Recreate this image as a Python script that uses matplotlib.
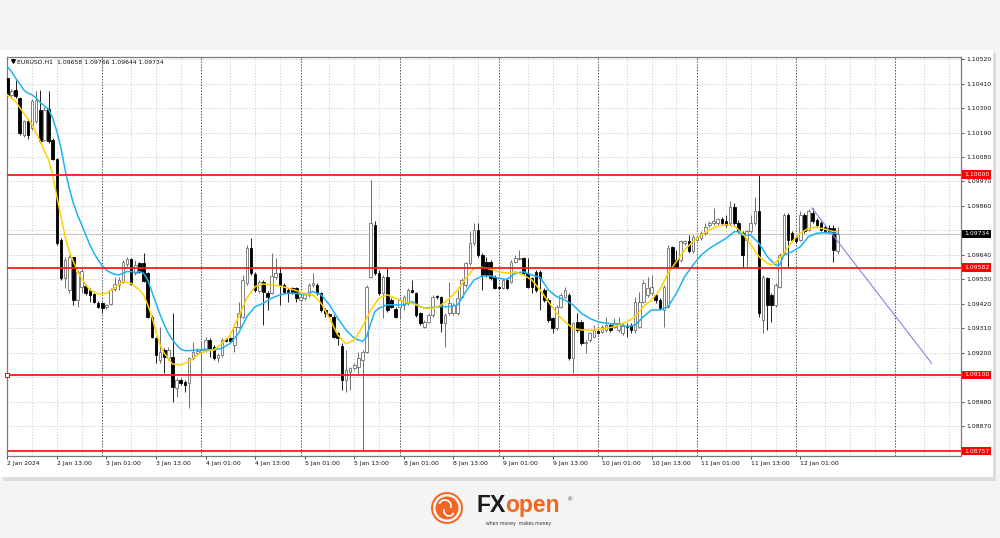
import numpy as np
import matplotlib.pyplot as plt
from matplotlib.patches import Rectangle, Circle, Arc

W, H = 1000, 538

# ------------------------------------------------------------------ data (EURUSD H1)
open_ = [
    1.10435, 1.10360, 1.10382, 1.10345, 1.10180, 1.10242, 1.10210, 1.10240, 1.10292, 1.10157,
    1.10295, 1.10157, 1.10070, 1.09707, 1.09535, 1.09482, 1.09629, 1.09437, 1.09497, 1.09502,
    1.09482, 1.09464, 1.09425, 1.09422, 1.09404, 1.09419, 1.09485, 1.09505, 1.09520, 1.09599,
    1.09620, 1.09557, 1.09602, 1.09602, 1.09557, 1.09362, 1.09265, 1.09167, 1.09212, 1.09175,
    1.09182, 1.09040, 1.09077, 1.09070, 1.09062, 1.09175, 1.09200, 1.09203, 1.09212, 1.09257,
    1.09227, 1.09175, 1.09190, 1.09260, 1.09265, 1.09235, 1.09317, 1.09362, 1.09512, 1.09672,
    1.09554, 1.09479, 1.09520, 1.09470, 1.09470, 1.09539, 1.09557, 1.09505, 1.09482, 1.09490,
    1.09490, 1.09437, 1.09445, 1.09460, 1.09505, 1.09505, 1.09467, 1.09392, 1.09372, 1.09362,
    1.09287, 1.09230, 1.09077, 1.09115, 1.09130, 1.09137, 1.09167, 1.09205, 1.09542, 1.09775,
    1.09557, 1.09467, 1.09539, 1.09437, 1.09395, 1.09407, 1.09415, 1.09422, 1.09482, 1.09467,
    1.09377, 1.09317, 1.09340, 1.09370, 1.09455, 1.09449, 1.09335, 1.09377, 1.09377, 1.09377,
    1.09452, 1.09505, 1.09602, 1.09692, 1.09752, 1.09640, 1.09610, 1.09610, 1.09542, 1.09497,
    1.09490, 1.09527, 1.09520, 1.09610, 1.09620, 1.09625, 1.09557, 1.09535, 1.09565, 1.09565,
    1.09482, 1.09437, 1.09355, 1.09310, 1.09407, 1.09452, 1.09460, 1.09175, 1.09340, 1.09340,
    1.09242, 1.09257, 1.09272, 1.09299, 1.09295, 1.09302, 1.09325, 1.09317, 1.09302, 1.09287,
    1.09320, 1.09325, 1.09302, 1.09317, 1.09430, 1.09460, 1.09467, 1.09460, 1.09437, 1.09392,
    1.09407, 1.09674, 1.09617, 1.09617, 1.09692, 1.09704, 1.09655, 1.09707, 1.09715, 1.09737,
    1.09775, 1.09782, 1.09782, 1.09800, 1.09790, 1.09782, 1.09857, 1.09782, 1.09737, 1.09707,
    1.09745, 1.09782, 1.09835, 1.09347, 1.09535, 1.09460, 1.09415, 1.09497, 1.09647, 1.09820,
    1.09737, 1.09722, 1.09707, 1.09820, 1.09752, 1.09827, 1.09797, 1.09782, 1.09767, 1.09760,
    1.09760, 1.09658]
high = [
    1.10442, 1.10385, 1.10427, 1.10352, 1.10247, 1.10250, 1.10340, 1.10379, 1.10382, 1.10307,
    1.10375, 1.10165, 1.10075, 1.09715, 1.09632, 1.09640, 1.09632, 1.09572, 1.09580, 1.09509,
    1.09490, 1.09470, 1.09434, 1.09430, 1.09419, 1.09490, 1.09542, 1.09542, 1.09617, 1.09632,
    1.09625, 1.09617, 1.09610, 1.09650, 1.09565, 1.09370, 1.09272, 1.09317, 1.09220, 1.09227,
    1.09377, 1.09085, 1.09085, 1.09077, 1.09182, 1.09250, 1.09220, 1.09250, 1.09272, 1.09265,
    1.09235, 1.09197, 1.09265, 1.09266, 1.09272, 1.09325, 1.09430, 1.09550, 1.09685, 1.09715,
    1.09565, 1.09527, 1.09527, 1.09479, 1.09647, 1.09625, 1.09580, 1.09512, 1.09490, 1.09497,
    1.09497, 1.09460, 1.09475, 1.09512, 1.09557, 1.09512, 1.09475, 1.09400, 1.09377, 1.09370,
    1.09295, 1.09242, 1.09212, 1.09137, 1.09152, 1.09205, 1.09212, 1.09505, 1.09977, 1.09790,
    1.09572, 1.09550, 1.09587, 1.09445, 1.09404, 1.09452, 1.09460, 1.09490, 1.09527, 1.09475,
    1.09385, 1.09347, 1.09377, 1.09460, 1.09461, 1.09455, 1.09377, 1.09520, 1.09422, 1.09482,
    1.09535, 1.09610, 1.09745, 1.09782, 1.09782, 1.09647, 1.09632, 1.09617, 1.09550, 1.09502,
    1.09535, 1.09535, 1.09617, 1.09640, 1.09662, 1.09632, 1.09625, 1.09542, 1.09572, 1.09572,
    1.09490, 1.09445, 1.09362, 1.09415, 1.09467, 1.09497, 1.09467, 1.09340, 1.09377, 1.09347,
    1.09257, 1.09295, 1.09325, 1.09305, 1.09325, 1.09362, 1.09332, 1.09355, 1.09362, 1.09332,
    1.09332, 1.09332, 1.09452, 1.09475, 1.09527, 1.09542, 1.09550, 1.09467, 1.09445, 1.09505,
    1.09685, 1.09680, 1.09662, 1.09707, 1.09707, 1.09730, 1.09730, 1.09728, 1.09745, 1.09782,
    1.09791, 1.09850, 1.09806, 1.09812, 1.09820, 1.09880, 1.09872, 1.09797, 1.09745, 1.09752,
    1.09820, 1.09902, 1.09999, 1.09550, 1.09542, 1.09467, 1.09512, 1.09647, 1.09827, 1.09827,
    1.09745, 1.09730, 1.09835, 1.09827, 1.09845, 1.09850, 1.09805, 1.09790, 1.09775, 1.09775,
    1.09775, 1.09766]
low = [
    1.10352, 1.10349, 1.10345, 1.10180, 1.10172, 1.10162, 1.10202, 1.10232, 1.10145, 1.10150,
    1.10142, 1.10067, 1.09685, 1.09527, 1.09490, 1.09467, 1.09415, 1.09407, 1.09467, 1.09460,
    1.09430, 1.09422, 1.09400, 1.09377, 1.09398, 1.09415, 1.09479, 1.09482, 1.09512, 1.09587,
    1.09505, 1.09550, 1.09557, 1.09520, 1.09355, 1.09265, 1.09152, 1.09152, 1.09107, 1.09167,
    1.08980, 1.09002, 1.09055, 1.09025, 1.08950, 1.09167, 1.09190, 1.08957, 1.09205, 1.09182,
    1.09167, 1.09160, 1.09182, 1.09250, 1.09248, 1.09205, 1.09310, 1.09355, 1.09505, 1.09550,
    1.09475, 1.09467, 1.09325, 1.09392, 1.09464, 1.09530, 1.09415, 1.09467, 1.09430, 1.09464,
    1.09430, 1.09430, 1.09437, 1.09452, 1.09497, 1.09460, 1.09385, 1.09362, 1.09362, 1.09265,
    1.09235, 1.09032, 1.09025, 1.09032, 1.09122, 1.09100, 1.08762, 1.09197, 1.09535, 1.09550,
    1.09460, 1.09355, 1.09385, 1.09400, 1.09355, 1.09355, 1.09392, 1.09415, 1.09467, 1.09362,
    1.09325, 1.09310, 1.09332, 1.09362, 1.09443, 1.09295, 1.09227, 1.09370, 1.09370, 1.09370,
    1.09445, 1.09497, 1.09595, 1.09685, 1.09632, 1.09482, 1.09542, 1.09527, 1.09485, 1.09485,
    1.09485, 1.09485, 1.09512, 1.09605, 1.09617, 1.09550, 1.09490, 1.09467, 1.09475, 1.09392,
    1.09430, 1.09340, 1.09287, 1.09302, 1.09400, 1.09445, 1.09167, 1.09107, 1.09295, 1.09235,
    1.09197, 1.09250, 1.09265, 1.09284, 1.09287, 1.09295, 1.09295, 1.09310, 1.09295, 1.09280,
    1.09272, 1.09287, 1.09287, 1.09310, 1.09422, 1.09452, 1.09460, 1.09422, 1.09392, 1.09317,
    1.09400, 1.09580, 1.09580, 1.09610, 1.09685, 1.09647, 1.09647, 1.09701, 1.09707, 1.09730,
    1.09767, 1.09775, 1.09776, 1.09775, 1.09767, 1.09775, 1.09775, 1.09737, 1.09587, 1.09587,
    1.09737, 1.09775, 1.09362, 1.09287, 1.09302, 1.09340, 1.09407, 1.09490, 1.09640, 1.09580,
    1.09700, 1.09692, 1.09700, 1.09737, 1.09745, 1.09782, 1.09767, 1.09745, 1.09737, 1.09737,
    1.09610, 1.09644]
close = [
    1.10360, 1.10379, 1.10355, 1.10187, 1.10242, 1.10180, 1.10330, 1.10337, 1.10150, 1.10292,
    1.10150, 1.10072, 1.09692, 1.09535, 1.09617, 1.09632, 1.09437, 1.09565, 1.09569, 1.09467,
    1.09460, 1.09430, 1.09407, 1.09400, 1.09413, 1.09482, 1.09509, 1.09527, 1.09610, 1.09620,
    1.09509, 1.09595, 1.09565, 1.09524, 1.09362, 1.09272, 1.09190, 1.09205, 1.09182, 1.09212,
    1.09047, 1.09077, 1.09062, 1.09055, 1.09175, 1.09205, 1.09209, 1.09212, 1.09257, 1.09212,
    1.09175, 1.09190, 1.09257, 1.09254, 1.09254, 1.09317, 1.09377, 1.09527, 1.09670, 1.09557,
    1.09482, 1.09520, 1.09475, 1.09452, 1.09545, 1.09560, 1.09505, 1.09475, 1.09470, 1.09470,
    1.09445, 1.09452, 1.09467, 1.09505, 1.09512, 1.09467, 1.09392, 1.09377, 1.09366, 1.09272,
    1.09265, 1.09077, 1.09122, 1.09130, 1.09145, 1.09175, 1.09205, 1.09497, 1.09782, 1.09557,
    1.09467, 1.09542, 1.09392, 1.09407, 1.09362, 1.09437, 1.09452, 1.09482, 1.09475, 1.09370,
    1.09332, 1.09340, 1.09370, 1.09452, 1.09449, 1.09332, 1.09370, 1.09422, 1.09415, 1.09445,
    1.09527, 1.09602, 1.09692, 1.09752, 1.09640, 1.09550, 1.09550, 1.09535, 1.09490, 1.09490,
    1.09527, 1.09490, 1.09610, 1.09625, 1.09625, 1.09557, 1.09497, 1.09497, 1.09482, 1.09535,
    1.09437, 1.09347, 1.09310, 1.09407, 1.09460, 1.09482, 1.09175, 1.09332, 1.09302, 1.09242,
    1.09250, 1.09287, 1.09302, 1.09290, 1.09317, 1.09325, 1.09302, 1.09332, 1.09332, 1.09320,
    1.09314, 1.09302, 1.09430, 1.09430, 1.09512, 1.09490, 1.09497, 1.09437, 1.09400, 1.09497,
    1.09670, 1.09587, 1.09587, 1.09700, 1.09702, 1.09655, 1.09722, 1.09722, 1.09737, 1.09767,
    1.09785, 1.09792, 1.09800, 1.09782, 1.09775, 1.09854, 1.09782, 1.09745, 1.09640, 1.09745,
    1.09782, 1.09835, 1.09377, 1.09542, 1.09415, 1.09415, 1.09505, 1.09640, 1.09820, 1.09707,
    1.09707, 1.09700, 1.09820, 1.09745, 1.09835, 1.09790, 1.09775, 1.09752, 1.09745, 1.09745,
    1.09662, 1.09734]

# yellow (fast) moving average, sampled at bar indices
fast_idx = [0, 2, 4, 6, 8, 10, 11, 12, 13, 14, 15, 16, 17, 18, 19, 20, 22, 24, 26, 28,
            30, 32, 33, 34, 35, 36, 37, 38, 40, 42, 44, 46, 48, 50, 52, 54, 56, 58, 60, 62,
            64, 66, 68, 70, 72, 74, 76, 78, 80, 82, 84, 86, 88, 90, 92, 94, 96, 98, 100, 101,
            103, 105, 107, 109, 111, 113, 115, 117, 119, 121, 123, 125, 127, 129, 131, 133, 135, 137, 139, 141,
            143, 145, 147, 149, 150, 152, 154, 156, 158, 160, 162, 164, 166, 168, 170, 172, 174, 176, 178, 180,
            182, 184, 185, 186, 188, 190, 192, 194, 196, 198, 200, 201]
fast_ma = [1.10360, 1.10330, 1.10277, 1.10225, 1.10150, 1.10067, 1.10000, 1.09902, 1.09812, 1.09722,
           1.09655, 1.09610, 1.09565, 1.09535, 1.09505, 1.09482, 1.09464, 1.09467, 1.09492, 1.09520,
           1.09512, 1.09482, 1.09460, 1.09415, 1.09362, 1.09295, 1.09235, 1.09197, 1.09149, 1.09145,
           1.09160, 1.09190, 1.09207, 1.09212, 1.09242, 1.09280, 1.09362, 1.09445, 1.09497, 1.09509,
           1.09505, 1.09500, 1.09490, 1.09479, 1.09464, 1.09460, 1.09422, 1.09355, 1.09280, 1.09239,
           1.09257, 1.09317, 1.09392, 1.09445, 1.09460, 1.09445, 1.09430, 1.09422, 1.09407, 1.09400,
           1.09400, 1.09414, 1.09444, 1.09482, 1.09534, 1.09579, 1.09584, 1.09575, 1.09564, 1.09557,
           1.09564, 1.09549, 1.09527, 1.09482, 1.09429, 1.09377, 1.09339, 1.09309, 1.09302, 1.09302,
           1.09305, 1.09309, 1.09317, 1.09332, 1.09339, 1.09362, 1.09407, 1.09437, 1.09482, 1.09557,
           1.09610, 1.09662, 1.09700, 1.09730, 1.09752, 1.09770, 1.09775, 1.09770, 1.09737, 1.09685,
           1.09632, 1.09602, 1.09595, 1.09605, 1.09647, 1.09700, 1.09737, 1.09760, 1.09764, 1.09755,
           1.09745, 1.09745]

# blue (slow) moving average
slow_idx = [0, 1, 2, 3, 4, 5, 6, 7, 8, 9, 10, 11, 12, 13, 14, 15, 16, 17, 18, 19,
            20, 21, 22, 23, 24, 25, 26, 27, 28, 29, 30, 31, 32, 33, 34, 35, 36, 37, 38, 39,
            40, 41, 42, 43, 44, 46, 48, 50, 52, 54, 56, 58, 60, 62, 64, 66, 68, 70, 72, 74,
            76, 78, 80, 82, 84, 86, 87, 88, 89, 90, 92, 94, 96, 98, 100, 101, 103, 105, 107, 109,
            111, 113, 115, 117, 119, 121, 123, 125, 127, 129, 131, 133, 135, 137, 139, 141, 143, 145, 147, 149,
            150, 152, 154, 156, 158, 160, 162, 164, 166, 168, 170, 172, 174, 176, 177, 178, 180, 182, 184, 186,
            187, 188, 190, 192, 194, 196, 198, 200, 201]
slow_ma = [1.10487, 1.10465, 1.10435, 1.10409, 1.10382, 1.10367, 1.10360, 1.10345, 1.10325, 1.10310,
           1.10295, 1.10255, 1.10195, 1.10120, 1.10022, 1.09940, 1.09872, 1.09820, 1.09775, 1.09730,
           1.09685, 1.09647, 1.09617, 1.09590, 1.09572, 1.09560, 1.09552, 1.09550, 1.09557, 1.09565,
           1.09565, 1.09560, 1.09565, 1.09557, 1.09527, 1.09475, 1.09422, 1.09370, 1.09325, 1.09287,
           1.09257, 1.09235, 1.09215, 1.09209, 1.09209, 1.09212, 1.09215, 1.09212, 1.09220, 1.09242,
           1.09287, 1.09362, 1.09407, 1.09422, 1.09445, 1.09460, 1.09467, 1.09467, 1.09460, 1.09475,
           1.09460, 1.09415, 1.09355, 1.09302, 1.09265, 1.09250, 1.09272, 1.09332, 1.09385, 1.09400,
           1.09415, 1.09415, 1.09415, 1.09430, 1.09407, 1.09400, 1.09404, 1.09407, 1.09407, 1.09414,
           1.09474, 1.09527, 1.09545, 1.09545, 1.09534, 1.09530, 1.09557, 1.09564, 1.09549, 1.09539,
           1.09482, 1.09452, 1.09437, 1.09414, 1.09377, 1.09354, 1.09339, 1.09332, 1.09329, 1.09324,
           1.09317, 1.09324, 1.09362, 1.09392, 1.09392, 1.09407, 1.09467, 1.09542, 1.09594, 1.09639,
           1.09669, 1.09692, 1.09714, 1.09744, 1.09744, 1.09729, 1.09729, 1.09692, 1.09632, 1.09594,
           1.09594, 1.09639, 1.09654, 1.09677, 1.09722, 1.09737, 1.09740, 1.09737, 1.09734]

levels = [1.10000, 1.09582, 1.09100, 1.08757]
bid = 1.09734
trend_idx = [194.8, 223.8]
trend_price = [1.09851, 1.09152]

price_ticks = [1.10520, 1.10410, 1.10300, 1.10190, 1.10080, 1.09970, 1.09860, 1.09750, 1.09640,
               1.09530, 1.09420, 1.09310, 1.09200, 1.09090, 1.08980, 1.08870, 1.08760]
# tick labels hidden behind the price boxes on the right
hidden_ticks = [1.09750, 1.09090, 1.08760]
time_labels = ['2 Jan 2024', '2 Jan 13:00', '3 Jan 01:00', '3 Jan 13:00', '4 Jan 01:00', '4 Jan 13:00',
               '5 Jan 01:00', '5 Jan 13:00', '8 Jan 01:00', '8 Jan 13:00', '9 Jan 01:00', '9 Jan 13:00',
               '10 Jan 01:00', '10 Jan 13:00', '11 Jan 01:00', '11 Jan 13:00', '12 Jan 01:00']
day_starts = [23, 47, 71, 95, 119, 143, 167, 191, 215]

# ------------------------------------------------------------------ figure / background panel
fig = plt.figure(figsize=(W / 100, H / 100), dpi=100)
fig.patch.set_facecolor('#f4f4f4')

bg = fig.add_axes([0, 0, 1, 1], zorder=-1)
bg.set_xlim(0, W)
bg.set_ylim(H, 0)
bg.axis('off')
bg.add_patch(Rectangle((3, 53), 993, 428, fc='#dedede', ec='none'))  # shadow
bg.add_patch(Rectangle((0, 50), 993, 427, fc='white', ec='none'))

# logo
orange = '#f26522'
bg.add_patch(Circle((447, 508), 15, fill=False, ec=orange, lw=1.4))
bg.add_patch(Circle((447, 508), 11.5, fc=orange, ec='none'))
bg.add_patch(Arc((445, 506), 12, 12, theta1=200, theta2=20, ec='white', lw=1.2))
bg.add_patch(Arc((449, 511), 10, 10, theta1=20, theta2=200, ec='white', lw=1.2))
bg.text(476, 512, 'FX', fontsize=16.5, fontweight='bold', family='Liberation Sans', color='#1a1a1a', va='baseline')
bg.text(505, 512, 'open', fontsize=16.5, fontweight='bold', family='Liberation Sans', color=orange, va='baseline')
bg.text(566, 500, '\u00ae', fontsize=4.5, color='#555555', va='center')
bg.text(486, 524, 'when money  makes money', fontsize=3.3, color='#333333', va='center')

# ------------------------------------------------------------------ chart
ax = fig.add_axes([7 / W, 1 - 456 / H, (961 - 7) / W, (456 - 57) / H])
ax.set_facecolor('white')
ax.set_xlim(-0.07, 230.9)
ax.set_ylim(1.08735, 1.10530)

# grid
grid_ls = (0, (1.5, 2.0))
for p in price_ticks:
    ax.axhline(p, color='#c8c8c8', lw=0.6, ls=grid_ls, zorder=0)
for i in range(6, 231, 6):
    if i % 24 == 0:
        continue
    ax.axvline(i, color='#c8c8c8', lw=0.6, ls=grid_ls, zorder=0)
for d in day_starts:
    ax.axvline(d, color='#505050', lw=0.7, ls=(0, (1.5, 1.5)), zorder=0.5)

ax.axhline(bid, color='#c6c6c6', lw=0.8, zorder=0.6)

# candles
o = np.array(open_)
h = np.array(high)
l = np.array(low)
c = np.array(close)
idx = np.arange(len(o))
up = c >= o
wick_col = np.where(up, '#6e6e6e', '#202020')
ax.vlines(idx, l, h, colors=wick_col, lw=0.7, zorder=2)
ax.bar(idx[up], (c - o)[up], bottom=o[up], width=0.62, color='white', edgecolor='#6e6e6e', lw=0.6, zorder=3)
ax.bar(idx[~up], (o - c)[~up], bottom=c[~up], width=0.62, color='black', edgecolor='black', lw=0.6, zorder=3)

# moving averages and trend line
ax.plot(slow_idx, slow_ma, color='#1cb4f0', lw=1.1, zorder=4)
ax.plot(fast_idx, fast_ma, color='#ffd200', lw=1.1, zorder=4)
ax.plot(trend_idx, trend_price, color='#8484e0', lw=0.8, zorder=4)

# horizontal levels
for lv in levels:
    ax.axhline(lv, color='#ff1a1a', lw=1.3, zorder=5)
    ax.text(1.003, lv, f'{lv:.5f}', transform=ax.get_yaxis_transform(), ha='left', va='center',
            fontsize=4.4, color='white', clip_on=False, zorder=6,
            bbox=dict(boxstyle='square,pad=0.3', fc='#ff0000', ec='none'))
ax.plot([0], [levels[2]], marker='s', ms=2.5, mfc='white', mec='#ff0000', mew=0.7, clip_on=False, zorder=6)
ax.text(1.003, bid, f'{bid:.5f}', transform=ax.get_yaxis_transform(), ha='left', va='center',
        fontsize=4.4, color='white', clip_on=False, zorder=6,
        bbox=dict(boxstyle='square,pad=0.3', fc='black', ec='none'))

# header
ax.plot([0.006], [0.989], marker='v', ms=2.6, color='black', transform=ax.transAxes, clip_on=False)
ax.text(0.011, 0.992, 'EURUSD,H1  1.09658 1.09766 1.09644 1.09734', transform=ax.transAxes,
        fontsize=4.4, va='top', ha='left', color='#111111')

# axes
ax.yaxis.tick_right()
ax.set_yticks(price_ticks)
ax.set_yticklabels(['' if p in hidden_ticks else f'{p:.5f}' for p in price_ticks])
ax.set_xticks(range(0, 12 * len(time_labels), 12))
ax.set_xticklabels(time_labels, ha='left')
ax.tick_params(axis='both', labelsize=4.4, length=2.2, width=0.6, color='#333333', labelcolor='#111111', pad=1.5)
for s in ax.spines.values():
    s.set_color('#7a7a7a')
    s.set_linewidth(0.9)

fig.savefig('out.png', dpi=100, facecolor=fig.get_facecolor())
